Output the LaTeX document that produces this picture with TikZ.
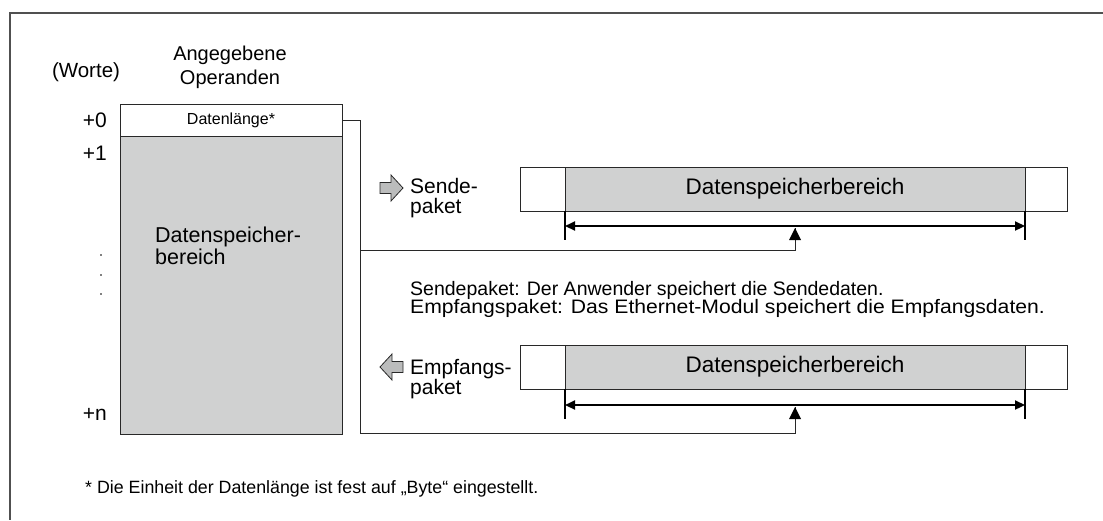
\documentclass[tikz,border=0pt]{standalone}
\usepackage{fontspec}
\usepackage{graphicx}
\setmainfont{Liberation Sans}
\usetikzlibrary{arrows.meta}
\definecolor{areagrey}{RGB}{208,209,209}
\definecolor{linegrey}{RGB}{40,40,40}
\definecolor{framegrey}{RGB}{80,80,80}
\tikzset{
  cell/.style={draw=linegrey, line width=1pt, inner sep=0pt, outer sep=0pt, anchor=north west},
  greycell/.style={cell, fill=areagrey},
  whitecell/.style={cell, fill=white},
  lbl/.style={inner sep=0pt, font=\fontsize{21}{20}\selectfont},
  expltxt/.style={inner sep=0pt, font=\fontsize{19.5}{18.5}\selectfont, anchor=west},
  conn/.style={draw=linegrey, line width=1pt},
  dimline/.style={draw=black, line width=2.2pt, {Triangle[length=10pt,width=9pt]}-{Triangle[length=10pt,width=9pt]}},
  tick/.style={draw=black, line width=2.2pt},
  blockarrow/.style={draw=linegrey, line width=0.8pt, fill=areagrey!90!black},
}
\begin{document}
\begin{tikzpicture}[x=1pt,y=-1pt]
\useasboundingbox (0,0) rectangle (1103,520);
% frame
\draw[framegrey, line width=2pt] (1103,13) -- (10,13) -- (10,520);

% headings
\node[inner sep=0pt, font=\fontsize{20.5}{24}\selectfont] (worte) at (86,72) {(Worte)};
\node[inner sep=0pt, font=\fontsize{20}{24}\selectfont, align=center] (oper) at (230,67) {Angegebene\\Operanden};

% left memory box
\node[whitecell, minimum width=222pt, minimum height=32pt] (len) at (120,104) {};
\node[inner sep=0pt, font=\fontsize{16}{18}\selectfont] (lentxt) at (len.center) {Datenlänge*};
\node[greycell, minimum width=222pt, minimum height=298pt] (area) at (120,136) {};
\node[inner sep=0pt, font=\fontsize{21.5}{22}\selectfont, align=left, anchor=west] (areatxt) at (155,246) {Datenspeicher-\\bereich};

% word offsets
\node[lbl, anchor=east] (p0) at (107,120) {+0};
\node[lbl, anchor=east] (p1) at (107,153) {+1};
\node[lbl, anchor=east] (pn) at (107,414) {+n};
\fill (101,255) circle (0.9pt) (101,275) circle (0.9pt) (101,294) circle (0.9pt);

% send packet
\node[whitecell, minimum width=45pt, minimum height=44pt] (sL) at (520,167) {};
\node[greycell, minimum width=460pt, minimum height=44pt] (sM) at (565,167) {};
\node[whitecell, minimum width=42pt, minimum height=44pt] (sR) at (1025,167) {};
\node[inner sep=0pt, font=\fontsize{22.5}{24}\selectfont] (stxt) at (sM.center) {Datenspeicherbereich};
\coordinate (sT1) at (565,240);
\coordinate (sT2) at (1025,240);
\draw[tick] (sM.south west) -- (sT1);
\draw[tick] (sM.south east) -- (sT2);
\draw[dimline] (565,226) -- (1025,226);
\coordinate (sTarget) at (795,228);

% receive packet
\node[whitecell, minimum width=45pt, minimum height=44pt] (rL) at (520,345) {};
\node[greycell, minimum width=460pt, minimum height=44pt] (rM) at (565,345) {};
\node[whitecell, minimum width=42pt, minimum height=44pt] (rR) at (1025,345) {};
\node[inner sep=0pt, font=\fontsize{22.5}{24}\selectfont] (rtxt) at (rM.center) {Datenspeicherbereich};
\coordinate (rT1) at (565,419);
\coordinate (rT2) at (1025,419);
\draw[tick] (rM.south west) -- (rT1);
\draw[tick] (rM.south east) -- (rT2);
\draw[dimline] (565,405) -- (1025,405);
\coordinate (rTarget) at (795,407);

% block arrows
\draw[blockarrow] (380,182.5) -- (391,182.5) -- (391,175) -- (403,188) -- (391,201) -- (391,193.5) -- (380,193.5) -- cycle;
\draw[blockarrow] (403,361.5) -- (392,361.5) -- (392,354) -- (380,367) -- (392,380) -- (392,372.5) -- (403,372.5) -- cycle;

% packet labels
\node[lbl, align=left, anchor=west] (slbl) at (410,198) {Sende-\\paket};
\node[lbl, align=left, anchor=west] (rlbl) at (410,379) {Empfangs-\\paket};

% explanation
\node[expltxt] (expl1) at (410,290) {Sendepaket: Der Anwender speichert die Sendedaten.};
\node[expltxt] (expl2) at (410,308) {\scalebox{1.085}[1]{Empfangspaket: Das Ethernet-Modul speichert die Empfangsdaten.}};

% connectors
\coordinate (c1) at (360,120);
\coordinate (c2) at (360,250);
\coordinate (c3) at (360,433);
\draw[conn] (len.east) -- (c1) -- (c3) -| (rTarget);
\draw[conn] (c2) -| (sTarget);
\fill[black] (rTarget) -- ++(-6,12) -- ++(12,0) -- cycle;
\fill[black] (sTarget) -- ++(-6,12) -- ++(12,0) -- cycle;

% footnote
\node[inner sep=0pt, font=\fontsize{17.8}{20}\selectfont, anchor=west] (foot) at (85,489) {* Die Einheit der Datenlänge ist fest auf „Byte“ eingestellt.};
\end{tikzpicture}
\end{document}
